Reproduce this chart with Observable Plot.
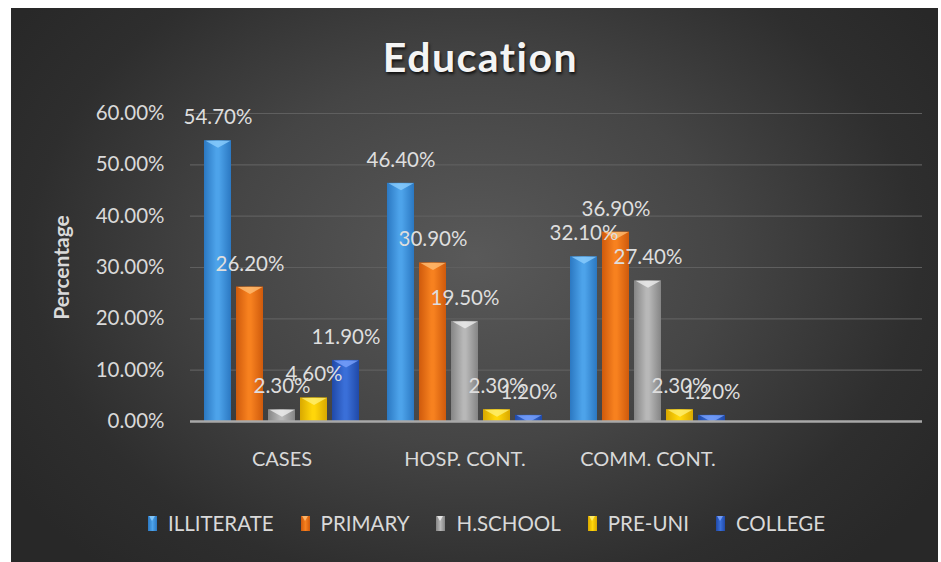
<!DOCTYPE html>
<html>
<head>
<meta charset="utf-8">
<script src="https://cdn.jsdelivr.net/npm/d3@7"></script>
<script src="https://cdn.jsdelivr.net/npm/@observablehq/plot@0.6"></script>
<style>
  html, body { margin: 0; padding: 0; background: #ffffff; }
  body { width: 941px; height: 562px; position: relative; overflow: hidden; font-family: Lato, "Open Sans", sans-serif; }
  #chart {
    position: absolute; left: 11px; top: 8px; width: 927px; height: 554px;
    background: radial-gradient(ellipse 60% 75% at 50% 45%, #595959 0%, #454545 45%, #2e2e2e 80%, #282828 100%);
  }
  #title {
    height: 95px; line-height: 98px; text-align: center; color: #f4f4f4;
    font-family: Lato, sans-serif; font-weight: bold; font-size: 41px; letter-spacing: 1.5px;
    text-shadow: 1px 2px 3px rgba(0,0,0,0.8);
    padding-left: 12px;
  }
  #legend {
    position: absolute; left: 0; right: 0; top: 503px;
    display: flex; justify-content: center; gap: 27px;
    font-size: 20.5px; color: #d9d9d9; font-family: Lato, sans-serif;
    padding-left: 24px;
  }
  .item { display: flex; align-items: center; gap: 11px; }
  .sw { width: 9px; height: 15px; position: relative; }
</style>
</head>
<body>
<div id="chart">
  <div id="title">Education</div>
  <div id="plot"></div>
  <div id="legend"></div>
</div>
<script>
const categories = ["CASES", "HOSP. CONT.", "COMM. CONT."];
const emptySlot = "";
const seriesNames = ["ILLITERATE", "PRIMARY", "H.SCHOOL", "PRE-UNI", "COLLEGE"];
const illiterate = [54.7, 46.4, 32.1];
const primary = [26.2, 30.9, 36.9];
const hschool = [2.3, 19.5, 27.4];
const preuni = [4.6, 2.3, 2.3];
const college = [11.9, 1.2, 1.2];
const yTicks = [0, 10, 20, 30, 40, 50, 60];

const seriesValues = [illiterate, primary, hschool, preuni, college];
// [edge, center, top highlight]
const seriesColors = [
  ["#2b78c2", "#4da3ea", "#8fd0ff"],
  ["#cf5a0c", "#f7811f", "#ffc27a"],
  ["#858585", "#b8b8b8", "#f2f2f2"],
  ["#d9a800", "#ffd60a", "#fff27a"],
  ["#2049a8", "#3a6fd8", "#7fa6ff"]
];

const allSlots = [...categories, emptySlot];

const data = [];
seriesNames.forEach((s, i) => {
  categories.forEach((c, j) => data.push({category: c, series: s, value: seriesValues[i][j]}));
});

const gridData = [];
allSlots.forEach(c => yTicks.forEach(t => gridData.push({category: c, tick: t})));

const chevron = {
  draw(context) {
    context.moveTo(-12.5, 0);
    context.lineTo(12.5, 0);
    context.lineTo(0, 7);
    context.closePath();
  }
};

const fmt = d => d.toFixed(2) + "%";

const marks = [
  Plot.ruleY(gridData.filter(d => d.tick > 0), {fx: "category", y: "tick", stroke: "#5f5f5f", strokeWidth: 1.2})
];
seriesNames.forEach((s, i) => {
  const sub = data.filter(d => d.series === s);
  marks.push(Plot.barY(sub, {fx: "category", x: "series", y: "value", fill: `url(#g${i})`}));
  marks.push(Plot.dot(sub, {fx: "category", x: "series", y: "value", symbol: chevron, r: 5, fill: seriesColors[i][2], fillOpacity: 0.75}));
});
marks.push(Plot.ruleY(gridData.filter(d => d.tick === 0), {fx: "category", y: "tick", stroke: "#a8a8a8", strokeWidth: 2.5}));
marks.push(Plot.text(data, {fx: "category", x: "series", y: "value", text: d => fmt(d.value), dy: -23, fill: "#dedede", fontSize: 20.5}));
marks.push(Plot.axisY(yTicks, {tickSize: 0, tickPadding: 26, tickFormat: fmt, fontSize: 20.5, label: null}));
marks.push(Plot.axisFx({anchor: "bottom", tickSize: 0, tickPadding: 30, fontSize: 20, label: null}));
marks.push(Plot.text([{category: categories[0], label: "Percentage"}], {fx: "category", text: "label", frameAnchor: "left", textAnchor: "middle", rotate: -90, dx: -128, fontWeight: "bold", fontSize: 21, fill: "#d9d9d9"}));

const svg = Plot.plot({
  width: 927,
  height: 380,
  marginTop: 10,
  marginBottom: 62,
  marginLeft: 179,
  marginRight: 16,
  style: {background: "transparent", color: "#d9d9d9", fontFamily: "Lato, 'Open Sans', sans-serif", overflow: "visible"},
  fx: {domain: allSlots, padding: 0, label: null},
  x: {domain: seriesNames, paddingInner: 0.16, paddingOuter: 0.38, axis: null},
  y: {domain: [0, 60], axis: null},
  marks
});

// gradients
const ns = "http://www.w3.org/2000/svg";
const defs = document.createElementNS(ns, "defs");
seriesColors.forEach((c, i) => {
  const g = document.createElementNS(ns, "linearGradient");
  g.setAttribute("id", `g${i}`);
  g.setAttribute("x1", "0"); g.setAttribute("x2", "1"); g.setAttribute("y1", "0"); g.setAttribute("y2", "0");
  [[0, c[0]], [0.45, c[1]], [0.55, c[1]], [1, c[0]]].forEach(([o, col]) => {
    const st = document.createElementNS(ns, "stop");
    st.setAttribute("offset", o);
    st.setAttribute("stop-color", col);
    g.appendChild(st);
  });
  defs.appendChild(g);
});
svg.insertBefore(defs, svg.firstChild);
document.getElementById("plot").appendChild(svg);

// legend
const legend = document.getElementById("legend");
seriesNames.forEach((s, i) => {
  const item = document.createElement("div");
  item.className = "item";
  const sw = document.createElement("div");
  sw.className = "sw";
  sw.style.background = `linear-gradient(to right, ${seriesColors[i][0]}, ${seriesColors[i][1]}, ${seriesColors[i][0]})`;
  const tri = document.createElement("div");
  tri.style.cssText = `position:absolute;left:1px;top:0;width:0;height:0;border-left:3.5px solid transparent;border-right:3.5px solid transparent;border-top:5px solid ${seriesColors[i][2]};opacity:0.8`;
  sw.appendChild(tri);
  const t = document.createElement("span");
  t.textContent = s;
  item.appendChild(sw);
  item.appendChild(t);
  legend.appendChild(item);
});
</script>
</body>
</html>
